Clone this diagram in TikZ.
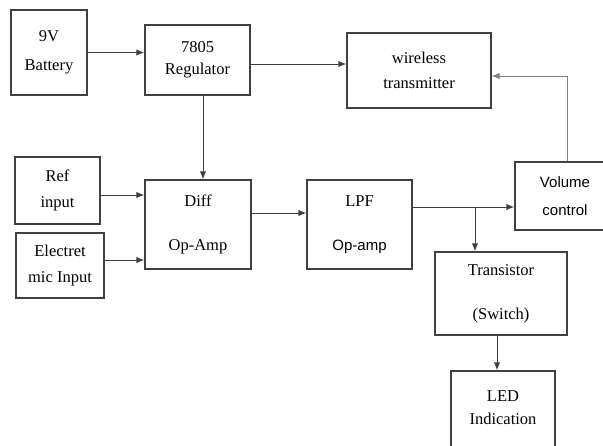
\documentclass[tikz,border=0pt]{standalone}
\usepackage{fontspec}
\setmainfont{Liberation Serif}
\newfontfamily\sansf{Liberation Sans}
\usetikzlibrary{positioning, arrows.meta}

\begin{document}
\begin{tikzpicture}[x=1pt, y=-1pt,
        blk/.style={draw=black!75, line width=1.4pt, align=center, inner sep=0pt, font=\fontsize{16.5}{18}\selectfont},
        conn/.style={draw=black!75, line width=1pt, -{Latex[length=8pt, width=6.5pt]}}]
        \useasboundingbox (0,0) rectangle (603,445);
        \clip (0,0) rectangle (603,445);
        % blocks
        \node[blk, minimum width=76pt, minimum height=85pt] (bat) at (49,52.5) {9V\\[11pt]Battery};
        \node[blk, minimum width=105pt, minimum height=70pt] (reg) at (197.5,60) {7805\\[4pt]Regulator};
        \node[blk, minimum width=144pt, minimum height=75pt] (wtx) at (419,70.5) {wireless\\[7pt]transmitter};
        \node[blk, minimum width=85pt, minimum height=67pt] (ref) at (57.5,190.5) {Ref\\[8pt]input};
        \node[blk, minimum width=88pt, minimum height=65pt] (mic) at (60,265.5) {Electret\\[8pt]mic Input};
        \node[blk, minimum width=106pt, minimum height=89pt] (diff) at (198,224.5) {Diff\\[26pt]Op-Amp};
        \node[blk, minimum width=105pt, minimum height=89pt] (lpf) at (359.5,224.5) {LPF\\[26pt]{\sansf\fontsize{15}{18}\selectfont Op-amp}};
        \node[blk, minimum width=100pt, minimum height=68pt, font=\sansf\fontsize{15}{18}\selectfont] (vol) at (565,196) {Volume\\[10pt]control};
        \node[blk, minimum width=132pt, minimum height=83pt] (trn) at (501,293.5) {Transistor\\[26pt](Switch)};
        \node[blk, minimum width=104pt, minimum height=90pt, text depth=16pt] (led) at (503,416) {LED\\[5pt]Indication};
        % connectors
        \draw[conn] (bat.east) -- (bat.east -| reg.west);
        \draw[conn] ([yshift=-4pt]reg.east) -- ([yshift=-4pt]reg.east -| wtx.west);
        \draw[conn] ([xshift=5.5pt]reg.south) -- ([xshift=5.5pt]reg.south |- diff.north);
        \draw[conn] ([yshift=-4.5pt]ref.east) -- ([yshift=-4.5pt]ref.east -| diff.west);
        \draw[conn] ([yshift=5.5pt]mic.east) -- ([yshift=5.5pt]mic.east -| diff.west);
        \draw[conn] ([yshift=11.5pt]diff.east) -- ([yshift=11.5pt]diff.east -| lpf.west);
        \draw[conn] ([yshift=17.5pt]lpf.east) -- ([yshift=17.5pt]lpf.east -| vol.west);
        \coordinate (j) at (475,207);
        \draw[conn] (j) -- (j |- trn.north);
        \draw[conn, draw=black!50] ([xshift=2pt]vol.north) |- ([yshift=-5.5pt]wtx.east);
        \draw[conn] ([xshift=-4pt]trn.south) -- ([xshift=-4pt]trn.south |- led.north);
\end{tikzpicture}
\end{document}
